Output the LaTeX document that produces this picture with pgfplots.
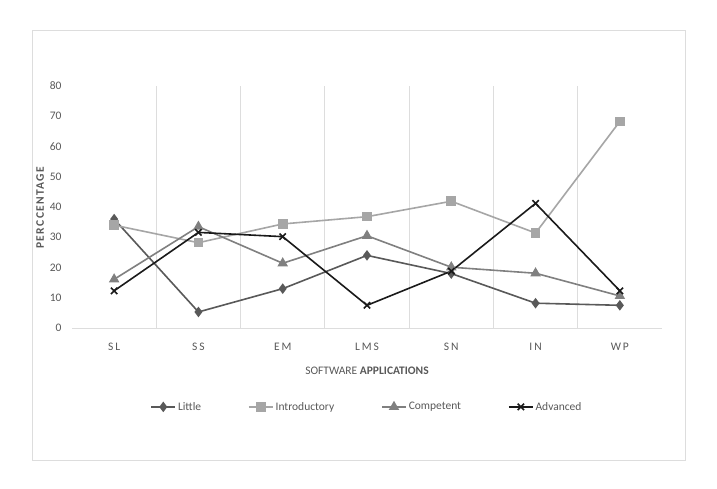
\documentclass[border=0pt]{standalone}
\usepackage{pgfplots}
\pgfplotsset{compat=1.18}
\usepackage{fontspec}
\setmainfont{Carlito}
\definecolor{cLittle}{HTML}{595959}
\definecolor{cIntro}{HTML}{A6A6A6}
\definecolor{cComp}{HTML}{808080}
\definecolor{cAdv}{HTML}{1A1A1A}
\definecolor{tickgray}{HTML}{595959}
\definecolor{gridgray}{HTML}{DDDDDD}
\begin{document}
\begin{tikzpicture}[x=1pt,y=1pt]
\path[fill=white] (0,0) rectangle (717,488);
\draw[draw=gridgray, line width=0.8pt] (32,28) rectangle (685,458);
\begin{axis}[
  at={(72pt,160pt)}, anchor=south west,
  scale only axis, width=590pt, height=242pt,
  xmin=-0.5, xmax=6.5, ymin=0, ymax=80,
  xtick={0,...,6},
  xticklabels={S\,L, S\,S, E\,M, L\,M\,S, S\,N, I\,N, W\,P},
  minor xtick={0.5,1.5,...,5.5},
  xmajorgrids=false, xminorgrids=true,
  minor grid style={draw=gridgray, line width=0.8pt},
  ytick={0,10,...,80},
  axis line style={draw=none},
  axis x line*=bottom, axis y line*=left,
  major tick length=0pt, minor tick length=0pt,
  tick label style={text=tickgray, font=\fontsize{11.5}{13}\selectfont},
  yticklabel style={xshift=-7pt},
  xticklabel style={yshift=-12pt},
  /pgf/number format/assume math mode=true,
  ylabel={\addfontfeatures{LetterSpace=12}\textbf{PERCCENTAGE}},
  ylabel style={text=tickgray, font=\fontsize{11.5}{13}\selectfont, yshift=-1pt},
  xlabel={SOFTWARE \textbf{APPLICATIONS}},
  xlabel style={text=tickgray, font=\fontsize{11.5}{13}\selectfont, yshift=-9pt},
  legend columns=4,
  legend style={at={(0.5,-0.326)}, anchor=center, draw=none, fill=none,
    font=\fontsize{11.5}{13}\selectfont, text=tickgray,
    /tikz/every even column/.append style={column sep=45pt}},
  legend image code/.code={
    \draw[mark repeat=2,mark phase=2] plot coordinates {(0cm,0cm) (0.42cm,0cm) (0.84cm,0cm)};},
]
\draw[draw=gridgray, line width=0.8pt] (axis cs:-0.5,0) -- (axis cs:6.5,0);
\addplot[cLittle, line width=1.6pt, mark=diamond*, mark size=4pt, mark options={solid}]
 coordinates {(0,36) (1,5.3) (2,13) (3,24) (4,18) (5,8.2) (6,7.5)};
\addlegendentry{Little}
\addplot[cIntro, line width=1.6pt, mark=square*, mark size=4pt]
 coordinates {(0,34) (1,28.2) (2,34.4) (3,36.8) (4,41.9) (5,31.4) (6,68.3)};
\addlegendentry{Introductory}
\addplot[cComp, line width=1.6pt, mark=triangle*, mark size=4.5pt]
 coordinates {(0,16.1) (1,33.5) (2,21.4) (3,30.5) (4,20.1) (5,18.1) (6,10.6)};
\addlegendentry{Competent}
\addplot[cAdv, line width=1.6pt, mark=x, mark size=4.5pt]
 coordinates {(0,12.3) (1,31.6) (2,30.2) (3,7.5) (4,18.8) (5,41.2) (6,12.3)};
\addlegendentry{Advanced}
\end{axis}
\end{tikzpicture}
\end{document}
